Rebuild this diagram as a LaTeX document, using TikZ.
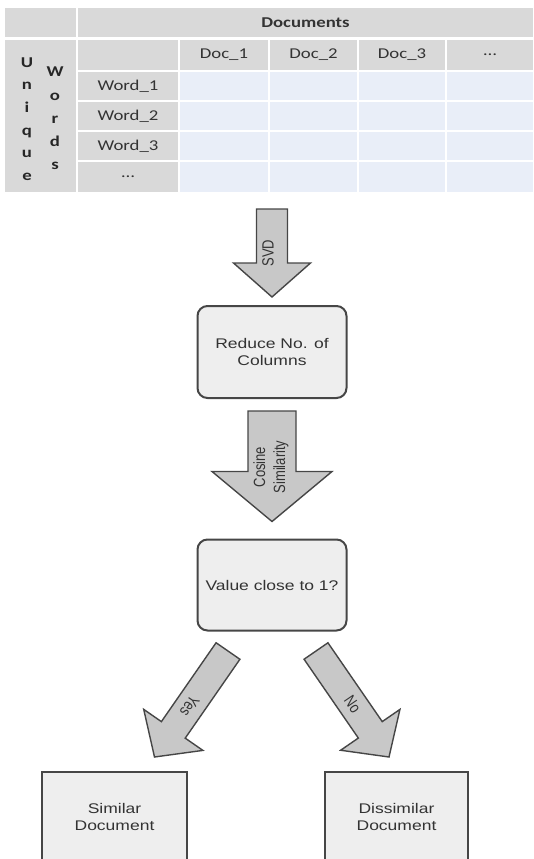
\documentclass[tikz,border=0pt]{standalone}
\usepackage{fontspec}
\setmainfont{Liberation Sans}
\newfontfamily\flowfont[FakeStretch=1.25]{Liberation Sans}
\newfontfamily\lblfont{Liberation Sans}
\newfontfamily\tablefont[FakeStretch=1.25]{Carlito}
\usepackage{xcolor}
\usepackage{tikz}
\usetikzlibrary{calc}
\definecolor{cellgray}{RGB}{217,217,217}
\definecolor{cellblue}{RGB}{233,238,248}
\definecolor{boxgray}{RGB}{238,238,238}
\definecolor{arrowgray}{RGB}{200,200,200}
\definecolor{edgegray}{RGB}{70,70,70}

% fat arrow: tail, tip, half shaft, half head, head length
\newcommand{\flowarrow}[5]{%
  \coordinate (neck) at ($(#2)!#5!(#1)$);
  \draw[blockarr] ($(#1)!#3!90:(#2)$) -- ($(neck)!#3!90:(#2)$) -- ($(neck)!#4!90:(#2)$) -- (#2)
    -- ($(neck)!#4!-90:(#2)$) -- ($(neck)!#3!-90:(#2)$) -- ($(#1)!#3!-90:(#2)$) -- cycle;
}

\begin{document}
\begin{tikzpicture}[
    x=1pt, y=-1pt,
    hcell/.style={rectangle, fill=cellgray, inner sep=0pt, text=black!80,
        font=\tablefont\fontsize{15}{18}\selectfont},
    dcell/.style={rectangle, fill=cellblue, inner sep=0pt},
    vletter/.style={inner sep=0pt, text=black!85, font=\tablefont\fontsize{15}{18}\selectfont\bfseries},
    flowbox/.style={draw=edgegray, line width=2pt, fill=boxgray, rounded corners=10pt,
        minimum width=149pt, minimum height=92pt, align=center, text=black!80,
        font=\flowfont\fontsize{14}{17}\selectfont},
    endbox/.style={flowbox, sharp corners, minimum height=90pt},
    blockarr/.style={draw=edgegray, line width=1.4pt, fill=arrowgray, line join=miter},
    arrlbl/.style={inner sep=1pt, align=center, text=black!80, font=\lblfont\fontsize{13}{16}\selectfont},
]
    \useasboundingbox (0,0) rectangle (533,859);

    % term-document table
    \node[hcell, minimum width=71pt, minimum height=29pt] (corner) at (40.5,22.5) {};
    \node[hcell, minimum width=455pt, minimum height=29pt] (docs) at (305.5,22.5) {\bfseries Documents};
    \node[hcell, minimum width=71pt, minimum height=152pt] (uw) at (40.5,116) {};
    \node[hcell, minimum width=100pt, minimum height=30pt] (wordhdr) at (128,55) {};
    \foreach \x/\w/\t [count=\i] in {224/88/Doc\_1, 313.5/87/Doc\_2, 402/86/Doc\_3, 490/86/{\ldots}}
        \node[hcell, minimum width=\w pt, minimum height=30pt] (doc\i) at (\x,55) {\t};
    \foreach \y/\h/\t [count=\j] in {86/28/Word\_1, 116/28/Word\_2, 146/28/Word\_3, 177/30/{\ldots}}
        \node[hcell, minimum width=100pt, minimum height=\h pt] (word\j) at (128,\y) {\t};
    \foreach \x/\w [count=\i] in {224/88, 313.5/87, 402/86, 490/86}
        \foreach \y/\h [count=\j] in {86/28, 116/28, 146/28, 177/30}
            \node[dcell, minimum width=\w pt, minimum height=\h pt] (d\i\j) at (\x,\y) {};
    \foreach \ch [count=\k] in {U,n,i,q,u,e}
        \node[vletter, anchor=base] (uq\k) at (27,{67+22.7*(\k-1)}) {\ch};
    \foreach \ch [count=\k] in {W,o,r,d,s}
        \node[vletter, anchor=base] (wd\k) at (55,{77+23.1*(\k-1)}) {\ch};

    % flow
    \node[flowbox] (reduce) at (272,352) {Reduce No. of\\Columns};
    \node[flowbox, minimum height=91pt] (value) at (272,585) {Value close to 1?};
    \node[endbox, minimum width=145pt] (similar) at (114.5,817) {Similar\\Document};
    \node[endbox, minimum width=143pt] (dissimilar) at (396.5,817) {Dissimilar\\Document};

    \coordinate (svdtail) at (272,209);
    \coordinate (svdtip) at ($(reduce.north)+(0,-8)$);
    \coordinate (costail) at ($(reduce.south)+(0,12)$);
    \coordinate (costip) at ($(value.north)+(0,-17)$);
    \coordinate (yestail) at (228,651);
    \coordinate (yestip) at ($(similar.north)+(40,-14)$);
    \coordinate (notail) at (316,651);
    \coordinate (notip) at ($(dissimilar.north)+(-7.5,-14)$);

    \flowarrow{svdtail}{svdtip}{15.5pt}{38.5pt}{34pt}
    \flowarrow{costail}{costip}{24pt}{60pt}{50pt}
    \flowarrow{yestail}{yestip}{14.5pt}{36pt}{33pt}
    \flowarrow{notail}{notip}{14.5pt}{36pt}{33pt}

    \node[arrlbl, rotate=90, yscale=1.25] (svdlbl) at (268,253) {SVD};
    \node[arrlbl, rotate=90, yscale=1.25] (coslbl) at (271,467) {Cosine\\Similarity};
    \node[arrlbl, rotate=235.7, yscale=1.25] (yeslbl) at ($(yestail)!0.52!(yestip)$) {Yes};
    \node[arrlbl, rotate=-55.7, yscale=1.25] (nolbl) at ($(notail)!0.5!(notip)$) {No};
\end{tikzpicture}
\end{document}
